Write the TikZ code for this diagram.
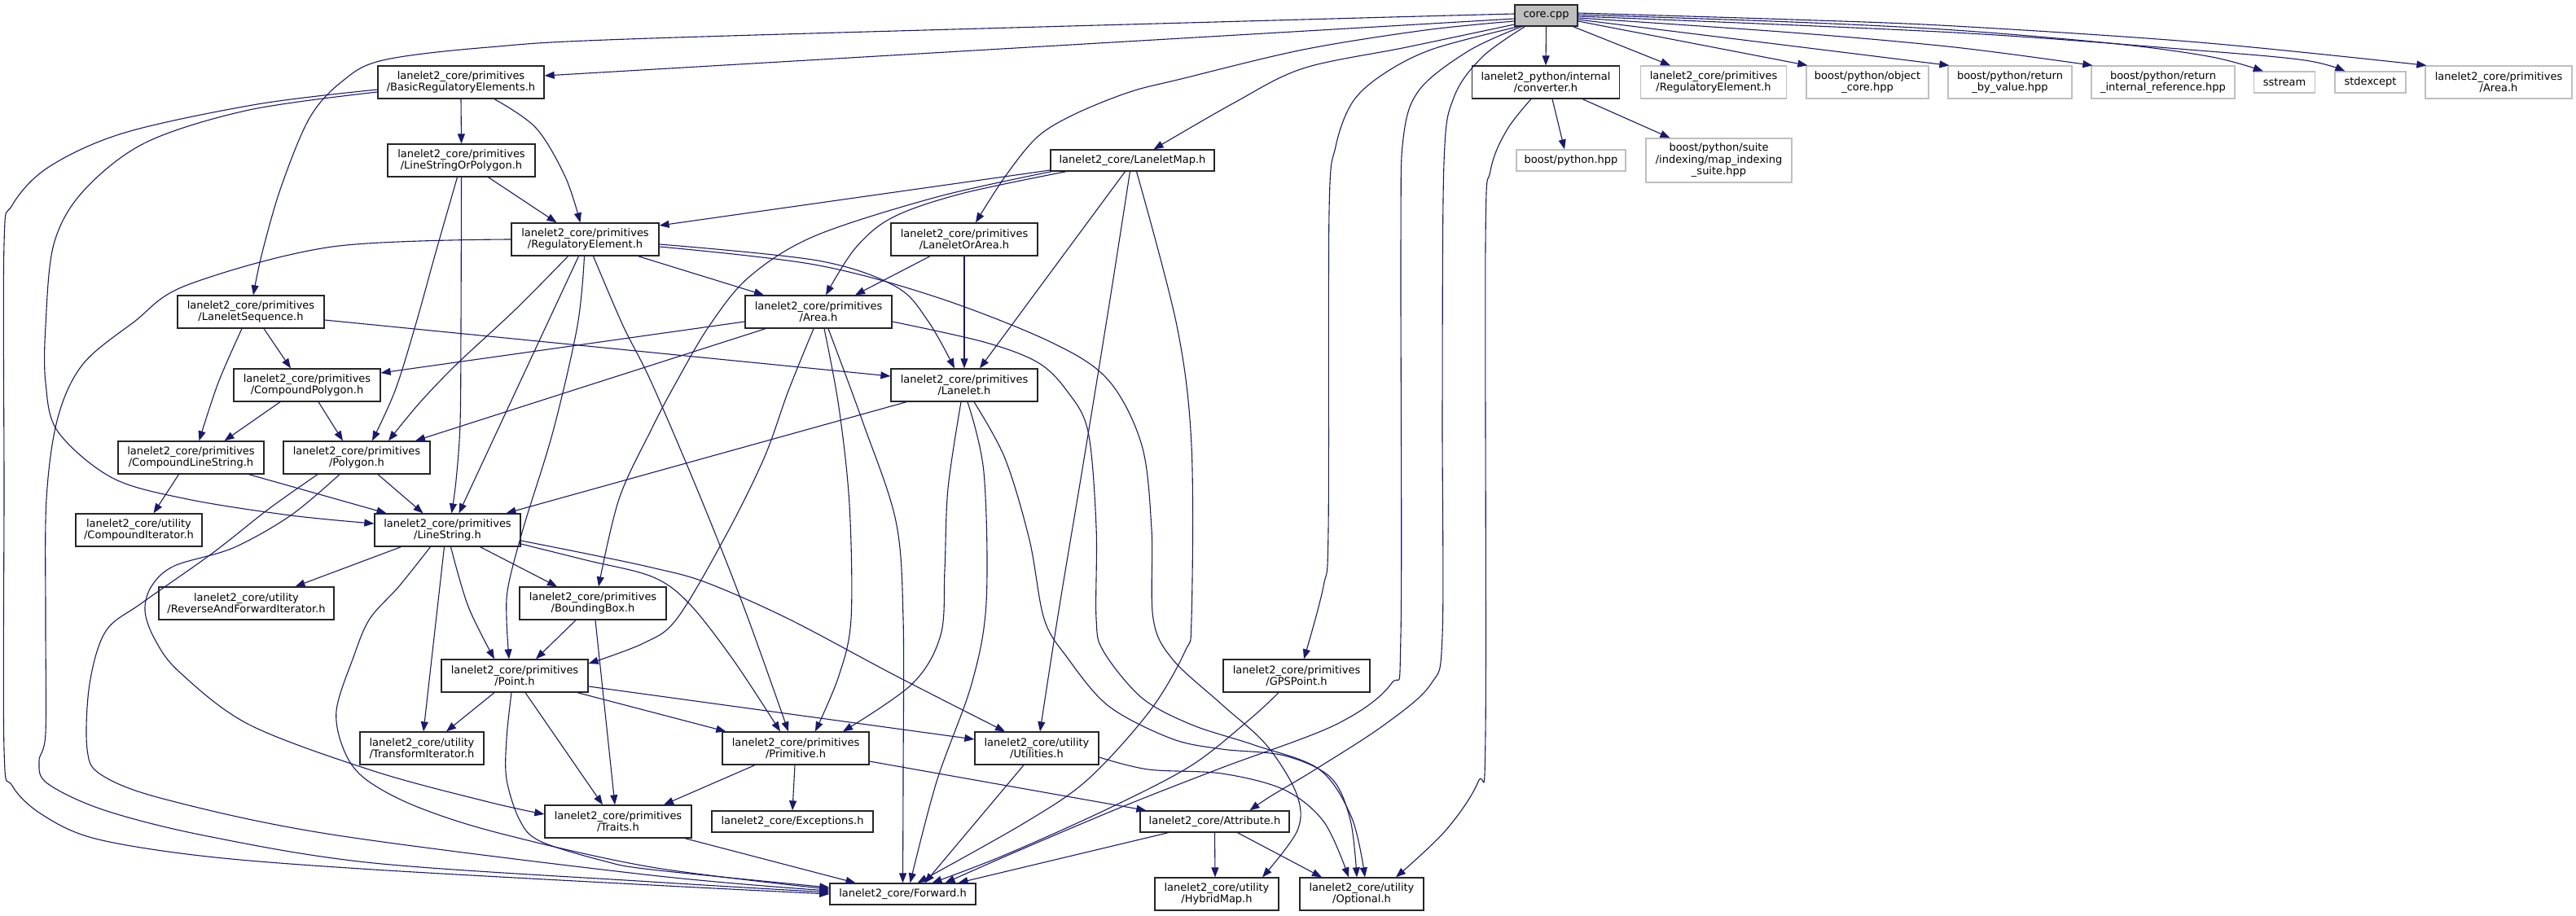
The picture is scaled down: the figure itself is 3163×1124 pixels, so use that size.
\documentclass[tikz,border=0pt]{standalone}
\usepackage{fontspec}
\setmainfont{DejaVu Sans}
\usetikzlibrary{arrows.meta}
\definecolor{edgec}{HTML}{191970}
\definecolor{grayS}{HTML}{BFBFBF}
\tikzset{
  incnode/.style={draw=black!85, line width=1.3pt, fill=white, rectangle, align=center,
    inner xsep=2pt, inner ysep=1pt, font=\fontsize{13}{14.5}\selectfont, minimum height=40pt},
  extnode/.style={incnode, draw=grayS},
  rootnode/.style={incnode, fill=grayS},
  dep/.style={draw=edgec, line width=1.1pt, -{Triangle[length=12pt,width=9pt]}}
}
\begin{document}
\begin{tikzpicture}[x=1pt,y=-1pt]
\fill[white] (0,0) rectangle (3163,1124);
\useasboundingbox (0,0) rectangle (3163,1124);
% ---- nodes ----
\node[rootnode, minimum width=77pt, minimum height=26pt] (core) at (1898.5,19) {core.cpp};
\node[incnode, minimum width=181pt] (conv) at (1898,101) {lanelet2\_python/internal\\/converter.h};
\node[extnode, minimum width=179pt] (regG) at (2104,101) {lanelet2\_core/primitives\\/RegulatoryElement.h};
\node[extnode, minimum width=150pt] (objcore) at (2293,101) {boost/python/object\\\_core.hpp};
\node[extnode, minimum width=152pt] (retval) at (2468,101) {boost/python/return\\\_by\_value.hpp};
\node[extnode, minimum width=176pt] (retint) at (2656,101) {boost/python/return\\\_internal\_reference.hpp};
\node[extnode, minimum width=75pt, minimum height=26pt] (sstream) at (2805,101) {sstream};
\node[extnode, minimum width=87pt, minimum height=26pt] (stdexc) at (2910.5,101) {stdexcept};
\node[extnode, minimum width=180pt] (areaG) at (3068,101) {lanelet2\_core/primitives\\/Area.h};
\node[extnode, minimum width=134pt, minimum height=26pt] (bpy) at (1929,197) {boost/python.hpp};
\node[extnode, minimum width=179pt, minimum height=54pt] (mis) at (2110.5,197) {boost/python/suite\\/indexing/map\_indexing\\\_suite.hpp};
\node[incnode, minimum width=204pt] (bre) at (566,101) {lanelet2\_core/primitives\\/BasicRegulatoryElements.h};
\node[incnode, minimum width=181pt] (lsop) at (566.5,197) {lanelet2\_core/primitives\\/LineStringOrPolygon.h};
\node[incnode, minimum width=201pt, minimum height=26pt] (lmap) at (1390.5,197) {lanelet2\_core/LaneletMap.h};
\node[incnode, minimum width=181pt] (re) at (718.5,294) {lanelet2\_core/primitives\\/RegulatoryElement.h};
\node[incnode, minimum width=180pt] (loa) at (1184,294) {lanelet2\_core/primitives\\/LaneletOrArea.h};
\node[incnode, minimum width=180pt] (lseq) at (308,383) {lanelet2\_core/primitives\\/LaneletSequence.h};
\node[incnode, minimum width=180pt] (area) at (1005,383) {lanelet2\_core/primitives\\/Area.h};
\node[incnode, minimum width=180pt] (cpoly) at (377,473) {lanelet2\_core/primitives\\/CompoundPolygon.h};
\node[incnode, minimum width=180pt] (lanelet) at (1184,473) {lanelet2\_core/primitives\\/Lanelet.h};
\node[incnode, minimum width=179pt] (cls) at (234.5,562) {lanelet2\_core/primitives\\/CompoundLineString.h};
\node[incnode, minimum width=180pt] (poly) at (438,562) {lanelet2\_core/primitives\\/Polygon.h};
\node[incnode, minimum width=155pt] (citer) at (170.5,651) {lanelet2\_core/utility\\/CompoundIterator.h};
\node[incnode, minimum width=179pt] (ls) at (549.5,651) {lanelet2\_core/primitives\\/LineString.h};
\node[incnode, minimum width=215pt] (rafi) at (302.5,741) {lanelet2\_core/utility\\/ReverseAndForwardIterator.h};
\node[incnode, minimum width=180pt] (bbox) at (728,741) {lanelet2\_core/primitives\\/BoundingBox.h};
\node[incnode, minimum width=180pt] (point) at (632,830) {lanelet2\_core/primitives\\/Point.h};
\node[incnode, minimum width=180pt] (gps) at (1592,830) {lanelet2\_core/primitives\\/GPSPoint.h};
\node[incnode, minimum width=152pt] (titer) at (518,919) {lanelet2\_core/utility\\/TransformIterator.h};
\node[incnode, minimum width=180pt] (prim) at (977,919) {lanelet2\_core/primitives\\/Primitive.h};
\node[incnode, minimum width=152pt] (util) at (1273,919) {lanelet2\_core/utility\\/Utilities.h};
\node[incnode, minimum width=180pt] (traits) at (759,1009) {lanelet2\_core/primitives\\/Traits.h};
\node[incnode, minimum width=198pt, minimum height=26pt] (exc) at (973,1009) {lanelet2\_core/Exceptions.h};
\node[incnode, minimum width=183pt, minimum height=26pt] (attr) at (1491.5,1009) {lanelet2\_core/Attribute.h};
\node[incnode, minimum width=179pt, minimum height=26pt] (fwd) at (1108.5,1098) {lanelet2\_core/Forward.h};
\node[incnode, minimum width=152pt] (hmap) at (1494,1098) {lanelet2\_core/utility\\/HybridMap.h};
\node[incnode, minimum width=152pt] (opt) at (1672,1098) {lanelet2\_core/utility\\/Optional.h};
% ---- edges from core.cpp ----
\draw[dep] ([yshift=-4pt]core.west) -- ([yshift=8pt]bre.east);
\draw[dep] plot[smooth,tension=0.55] coordinates {([yshift=2pt]core.west) (1600,24) (800,47) (600,58) (470,74) (420,100) (380,145) (345,230) (322,310) ([xshift=3pt]lseq.north)};
\draw[dep] plot[smooth,tension=0.55] coordinates {([yshift=-7pt]core.west) (1750,37) (1600,61) (1450,97) (1387,113) (1320,140) (1274,168) (1234,217) ([xshift=14pt]loa.north)};
\draw[dep] plot[smooth,tension=0.55] coordinates {([yshift=-11pt]core.west) (1727,58) (1600,84) (1514,127) ([xshift=26pt]lmap.north)};
\draw[dep] (core.south) -- (conv.north);
\draw[dep] ([xshift=33pt]core.south) -- ([xshift=-53pt]regG.north);
\draw[dep] ([yshift=-7pt]core.east) -- ([xshift=2pt]objcore.north west);
\draw[dep] ([yshift=-5pt]core.east) -- ([xshift=2pt]retval.north west);
\draw[dep] plot[smooth,tension=0.55] coordinates {([yshift=-3pt]core.east) (2200,40) (2400,58) ([xshift=2pt]retint.north west)};
\draw[dep] plot[smooth,tension=0.55] coordinates {([yshift=1pt]core.east) (2200,27) (2400,37) (2600,54) (2716,70) ([xshift=12pt]sstream.north west)};
\draw[dep] plot[smooth,tension=0.55] coordinates {([yshift=-1pt]core.east) (2400,40) (2700,62) (2830,74) ([xshift=13pt]stdexc.north west)};
\draw[dep] plot[smooth,tension=0.55] coordinates {([yshift=3pt]core.east) (2200,24) (2400,32) (2700,52) ([xshift=2pt]areaG.north west)};
\draw[dep] plot[smooth,tension=0.55] coordinates {([xshift=5pt]core.south west) (1760,60) (1700,90) (1661,125) (1640,180) (1632,260) (1631,650) (1625,720) ([xshift=9pt]gps.north)};
\draw[dep] plot[smooth,tension=0.55] coordinates {([xshift=9pt]core.south west) (1804,62) (1743,110) (1723,170) (1720,300) (1720,780) (1708,840) (1640,890) (1500,943) (1380,990) (1250,1045) ([xshift=52pt]fwd.north)};
\draw[dep] plot[smooth,tension=0.55] coordinates {([xshift=13pt]core.south west) (1820,70) (1785,120) (1773,200) (1771,500) (1771,780) (1757,840) (1700,890) (1615,945) (1560,978) ([xshift=43pt]attr.north)};
% ---- converter.h ----
\draw[dep] plot[smooth,tension=0.55] coordinates {([xshift=-18pt]conv.south) (1850,160) (1830,210) (1824,300) (1824,900) (1815,960) (1775,1020) ([xshift=42pt]opt.north)};
\draw[dep] ([xshift=8pt]conv.south) -- ([xshift=-8pt]bpy.north);
\draw[dep] ([xshift=45pt]conv.south) -- ([xshift=-60pt]mis.north);
% ---- BasicRegulatoryElements.h ----
\draw[dep] (bre.south) -- (lsop.north);
\draw[dep] plot[smooth,tension=0.55] coordinates {([xshift=41pt]bre.south) (658,157) (694,217) ([xshift=-6pt]re.north)};
\draw[dep] plot[smooth,tension=0.55] coordinates {([yshift=-9pt]bre.west) (316,128) (153,163) (60,205) (15,252) (5,300) (5,600) (5,920) (15,965) (51,1000) (117,1030) (255,1052) (459,1068) (800,1087) (fwd.west)};
\draw[dep] plot[smooth,tension=0.55] coordinates {([yshift=-12pt]bre.west) (306,135) (179,175) (102,235) (66,300) (56,400) (56,470) (71,530) (138,587) (230,613) (357,633) ([yshift=8pt]ls.west)};
% ---- LineStringOrPolygon.h ----
\draw[dep] ([xshift=33pt]lsop.south) -- ([xshift=-35pt]re.north);
\draw[dep] plot[smooth,tension=0.55] coordinates {([xshift=-5pt]lsop.south) (535,310) (510,400) (485,480) ([xshift=19pt]poly.north)};
\draw[dep] plot[smooth,tension=0.55] coordinates {(lsop.south) (566,400) (565,520) (560,590) ([xshift=5pt]ls.north)};
% ---- RegulatoryElement.h ----
\draw[dep] plot[smooth,tension=0.55] coordinates {(re.west) (408,303) (230,350) (165,395) (102,447) (71,513) (57,613) (56,760) (56,900) (48,935) (58,962) (128,995) (255,1027) (459,1060) (800,1083) ([yshift=2pt]fwd.west)};
\draw[dep] ([xshift=65pt]re.south) -- ([xshift=-67pt]area.north);
\draw[dep] plot[smooth,tension=0.55] coordinates {([yshift=-6pt]re.east) (1004,320) (1100,352) (1140,395) ([xshift=-12pt]lanelet.north)};
\draw[dep] plot[smooth,tension=0.55] coordinates {([yshift=-9pt]re.east) (1000,325) (1150,365) (1290,420) (1361,467) (1402,547) (1414,650) (1416,760) (1440,810) (1500,865) (1555,915) (1592,975) (1593,1020) ([xshift=56pt]hmap.north)};
\draw[dep] plot[smooth,tension=0.55] coordinates {([xshift=-21pt]re.south) (633,380) (561,447) (515,495) ([xshift=39pt]poly.north)};
\draw[dep] ([xshift=-8pt]re.south) -- ([xshift=14pt]ls.north);
\draw[dep] plot[smooth,tension=0.55] coordinates {([xshift=-1pt]re.south) (709,400) (679,530) (643,647) (624,720) (622,760) ([xshift=-7pt]point.north)};
\draw[dep] plot[smooth,tension=0.55] coordinates {([xshift=10pt]re.south) (765,400) (800,470) (861,613) (915,750) ([xshift=-9pt]prim.north)};
% ---- Area.h ----
\draw[dep] ([yshift=-12pt]area.west) -- ([yshift=15pt]cpoly.east);
\draw[dep] ([xshift=-65pt]area.south) -- ([xshift=72pt]poly.north);
\draw[dep] plot[smooth,tension=0.55] coordinates {([xshift=-6pt]area.south) (968,480) (938,563) (890,660) (831,760) (790,790) ([yshift=15pt]point.east)};
\draw[dep] plot[smooth,tension=0.55] coordinates {([xshift=7pt]area.south) (1030,500) (1043,620) (1045,760) (1030,830) ([xshift=24pt]prim.north)};
\draw[dep] plot[smooth,tension=0.55] coordinates {([xshift=12pt]area.south) (1060,520) (1100,640) (1109,760) (1109,950) (fwd.north)};
\draw[dep] plot[smooth,tension=0.55] coordinates {([yshift=-12pt]area.east) (1208,420) (1274,445) (1310,480) (1336,530) (1346,647) (1346,760) (1355,800) (1402,857) (1463,890) (1540,915) (1620,945) (1660,1005) ([xshift=4pt]opt.north)};
% ---- LaneletMap.h ----
\draw[dep] ([yshift=-12pt]lmap.west) -- ([yshift=17pt]re.east);
\draw[dep] plot[smooth,tension=0.55] coordinates {([xshift=2pt]lmap.south west) (1150,242) (1000,290) (920,340) (871,400) (830,470) (800,527) (760,613) ([xshift=7pt]bbox.north)};
\draw[dep] plot[smooth,tension=0.55] coordinates {([xshift=20pt]lmap.south west) (1180,238) (1096,267) (1050,305) ([xshift=9pt]area.north)};
\draw[dep] ([xshift=-9pt]lmap.south) -- ([xshift=19pt]lanelet.north);
\draw[dep] plot[smooth,tension=0.55] coordinates {([xshift=-3pt]lmap.south) (1361,380) (1330,570) (1300,750) ([xshift=4pt]util.north)};
\draw[dep] plot[smooth,tension=0.55] coordinates {([xshift=5pt]lmap.south) (1445,400) (1463,547) (1463,760) (1455,800) (1412,873) (1336,957) (1259,1010) ([xshift=18pt]fwd.north)};
% ---- LaneletOrArea.h ----
\draw[dep] ([xshift=-42pt]loa.south) -- ([xshift=45pt]area.north);
\draw[dep] (loa.south) -- (lanelet.north);
% ---- LaneletSequence.h ----
\draw[dep] ([xshift=16pt]lseq.south) -- ([xshift=-20pt]cpoly.north);
\draw[dep] plot[smooth,tension=0.55] coordinates {([xshift=-11pt]lseq.south) (268,470) ([xshift=10pt]cls.north)};
\draw[dep] ([yshift=-10pt]lseq.east) -- ([yshift=11pt]lanelet.west);
% ---- CompoundPolygon / CompoundLineString / Polygon ----
\draw[dep] ([xshift=-33pt]cpoly.south) -- ([xshift=41pt]cls.north);
\draw[dep] ([xshift=14pt]cpoly.south) -- ([xshift=-17pt]poly.north);
\draw[dep] ([xshift=-15pt]cls.south) -- ([xshift=18pt]citer.north);
\draw[dep] ([xshift=71pt]cls.south) -- ([xshift=-75pt]ls.north);
\draw[dep] ([xshift=26pt]poly.south) -- ([xshift=-30pt]ls.north);
\draw[dep] plot[smooth,tension=0.55] coordinates {([xshift=-48pt]poly.south) (330,625) (260,680) (175,740) (130,775) (110,840) (107,920) (125,952) (204,982) (408,1025) (800,1075) ([yshift=4pt]fwd.west)};
\draw[dep] plot[smooth,tension=0.55] coordinates {([xshift=-21pt]poly.south) (357,633) (286,673) (214,695) (186,720) (178,750) (190,785) (220,825) (306,890) (459,947) (600,985) ([yshift=9pt]traits.west)};
% ---- LineString.h ----
\draw[dep] ([xshift=-57pt]ls.south) -- ([xshift=60pt]rafi.north);
\draw[dep] ([xshift=-4pt]ls.south) -- ([xshift=2pt]titer.north);
\draw[dep] plot[smooth,tension=0.55] coordinates {([xshift=4pt]ls.south) (575,745) ([xshift=-25pt]point.north)};
\draw[dep] ([xshift=40pt]ls.south) -- ([xshift=-44pt]bbox.north);
\draw[dep] plot[smooth,tension=0.55] coordinates {([yshift=-17pt]ls.east) (720,688) (800,708) (845,740) (900,810) ([xshift=-19pt]prim.north)};
\draw[dep] plot[smooth,tension=0.55] coordinates {([yshift=-13pt]ls.east) (720,680) (800,697) (866,715) (968,760) (1100,830) ([xshift=-39pt]util.north)};
\draw[dep] plot[smooth,tension=0.55] coordinates {([xshift=-21pt]ls.south) (490,720) (454,760) (434,807) (413,873) (423,923) (449,957) (510,990) (612,1023) (800,1065) ([yshift=6pt]fwd.west)};
% ---- Point.h ----
\draw[dep] ([xshift=-25pt]point.south) -- ([xshift=30pt]titer.north);
\draw[dep] ([xshift=13pt]point.south) -- ([xshift=-19pt]traits.north);
\draw[dep] plot[smooth,tension=0.55] coordinates {([xshift=-4pt]point.south) (622,907) (622,957) (638,1007) (663,1033) (740,1057) (800,1068) ([yshift=8pt]fwd.west)};
\draw[dep] ([xshift=77pt]point.south) -- ([xshift=5pt]prim.north west);
\draw[dep] ([yshift=-13pt]point.east) -- ([yshift=11pt]util.west);
% ---- BoundingBox.h ----
\draw[dep] ([xshift=-21pt]bbox.south) -- ([xshift=26pt]point.north);
\draw[dep] ([xshift=3pt]bbox.south) -- ([xshift=-4pt]traits.north);
% ---- Primitive.h ----
\draw[dep] ([xshift=-50pt]prim.south) -- ([xshift=56pt]traits.north);
\draw[dep] ([xshift=-1pt]prim.south) -- (exc.north);
\draw[dep] ([yshift=-16pt]prim.east) -- ([xshift=8pt]attr.north west);
% ---- Utilities.h ----
\draw[dep] ([xshift=-16pt]util.south) -- ([xshift=27pt]fwd.north);
\draw[dep] plot[smooth,tension=0.55] coordinates {([yshift=-11pt]util.east) (1410,945) (1500,950) (1577,970) (1626,1010) ([xshift=-16pt]opt.north)};
% ---- Lanelet.h ----
\draw[dep] ([xshift=-71pt]lanelet.south) -- ([xshift=72pt]ls.north);
\draw[dep] plot[smooth,tension=0.55] coordinates {([xshift=-4pt]lanelet.south) (1164,600) (1160,700) (1155,780) (1120,840) ([xshift=58pt]prim.north)};
\draw[dep] plot[smooth,tension=0.55] coordinates {([xshift=4pt]lanelet.south) (1208,580) (1211,740) (1193,840) (1150,960) ([xshift=9pt]fwd.north)};
\draw[dep] plot[smooth,tension=0.55] coordinates {([xshift=12pt]lanelet.south) (1234,563) (1264,663) (1282,760) (1310,807) (1361,867) (1438,907) (1500,920) (1577,928) (1634,955) (1658,1007) ([xshift=-6pt]opt.north)};
% ---- GPSPoint.h ----
\draw[dep] plot[smooth,tension=0.55] coordinates {([xshift=-22pt]gps.south) (1535,883) (1463,940) (1361,993) (1234,1050) ([xshift=36pt]fwd.north)};
% ---- Attribute.h ----
\draw[dep] ([xshift=-57pt]attr.south) -- ([xshift=68pt]fwd.north);
\draw[dep] (attr.south) -- ([xshift=-2pt]hmap.north);
\draw[dep] ([xshift=28pt]attr.south) -- ([xshift=-49pt]opt.north);
% ---- Traits.h ----
\draw[dep] ([xshift=82pt]traits.south) -- ([xshift=-58pt]fwd.north);
\end{tikzpicture}
\end{document}
